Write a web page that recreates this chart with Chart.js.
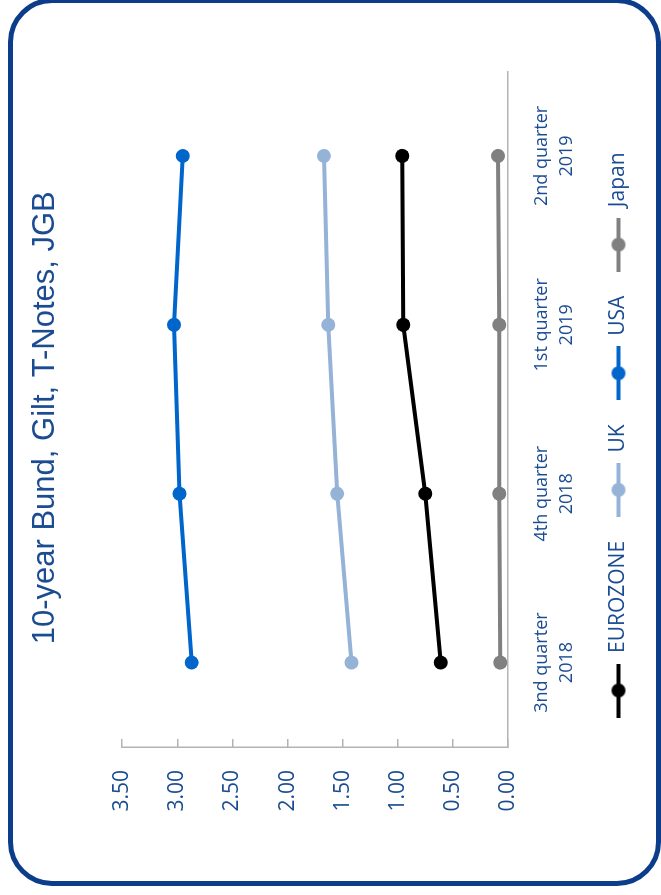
<!DOCTYPE html>
<html>
<head>
<meta charset="utf-8">
<script src="https://cdn.jsdelivr.net/npm/chart.js@4"></script>
<style>
  html, body { margin: 0; padding: 0; background: #fff; overflow: hidden; }
  body { width: 661px; height: 895px; position: relative; }
  #frame { position: absolute; left: 8px; top: -2px; width: 643px; height: 878px;
           border: 5px solid #0b3d8a; border-radius: 44px; }
  /* the chart is drawn landscape and turned a quarter left */
  #wrap { position: absolute; left: 0; top: 0; width: 895px; height: 661px;
          transform-origin: 0 0; transform: translateY(895px) rotate(-90deg); }
</style>
</head>
<body>
<div id="frame"></div>
<div id="wrap"><canvas id="bondChart" width="895" height="661"></canvas></div>
<script>
const quarters = [['3nd quarter', '2018'], ['4th quarter', '2018'], ['1st quarter', '2019'], ['2nd quarter', '2019']];
const seriesNames = ['EUROZONE', 'UK', 'USA', 'Japan'];
const seriesColors = ['#000000', '#95b3d7', '#0066cc', '#808080'];
const eurozone = [0.61, 0.75, 0.95, 0.96];
const uk = [1.42, 1.55, 1.63, 1.67];
const usa = [2.87, 2.98, 3.03, 2.95];
const japan = [0.07, 0.08, 0.08, 0.09];
const yTicks = [0, 0.5, 1, 1.5, 2, 2.5, 3, 3.5];

const textBlue = '#1b4c92';
const axisGrey = '#b3b3b3';

// little line-with-dot images for the legend
function legendMark(color) {
  const c = document.createElement('canvas');
  c.width = 54;
  c.height = 16;
  const g = c.getContext('2d');
  g.strokeStyle = color;
  g.lineWidth = 4;
  g.beginPath();
  g.moveTo(0, 8);
  g.lineTo(54, 8);
  g.stroke();
  g.fillStyle = color;
  g.beginPath();
  g.arc(27, 8, 7, 0, Math.PI * 2);
  g.fill();
  return c;
}
const marks = seriesColors.map(legendMark);

const allValues = [eurozone, uk, usa, japan];

const ctx = document.getElementById('bondChart').getContext('2d');
new Chart(ctx, {
  type: 'line',
  data: {
    labels: quarters,
    datasets: seriesNames.map((name, i) => ({
      label: name,
      data: allValues[i],
      borderColor: seriesColors[i],
      backgroundColor: seriesColors[i],
      pointBackgroundColor: seriesColors[i],
      borderWidth: 4,
      pointRadius: 7,
      pointBorderWidth: 0,
      tension: 0
    }))
  },
  options: {
    responsive: false,
    animation: false,
    layout: { padding: { left: 25, right: 0, top: 0, bottom: 22 } },
    plugins: {
      title: {
        display: true,
        // leading spaces nudge the title over the plot
        text: '    10-year Bund, Gilt, T-Notes, JGB',
        color: textBlue,
        font: { family: 'Liberation Sans, Arial', size: 31, weight: 'normal' },
        padding: { top: 27, bottom: 58 }
      },
      legend: {
        position: 'bottom',
        labels: {
          usePointStyle: true,
          pointStyleWidth: 54,
          padding: 24,
          color: textBlue,
          font: { family: 'Open Sans', size: 21 },
          generateLabels: function(chart) {
            const items = Chart.defaults.plugins.legend.labels.generateLabels(chart);
            items.forEach((it, i) => { it.pointStyle = marks[i]; });
            return items;
          }
        }
      },
      tooltip: { enabled: false }
    },
    scales: {
      x: {
        offset: true,
        grid: { display: false, drawTicks: false },
        border: { display: true, color: axisGrey, width: 1.5 },
        ticks: { color: textBlue, padding: 21, font: { family: 'Open Sans', size: 18, lineHeight: 1.4 }, maxRotation: 0 },
        afterFit: function(scale) { scale.height = 76; }
      },
      y: {
        min: 0,
        max: 3.5,
        afterBuildTicks: function(scale) { scale.ticks = yTicks.map(v => ({ value: v })); },
        grid: { display: true, drawOnChartArea: false, tickLength: -8, color: axisGrey, lineWidth: 1.5 },
        border: { display: true, color: axisGrey, width: 1.5 },
        ticks: {
          color: textBlue,
          padding: 31,
          font: { family: 'Open Sans', size: 21 },
          callback: function(v) { return Number(v).toFixed(2); }
        },
        afterFit: function(scale) { scale.width = 123; }
      },
      // empty right-hand axis, only keeps the plot's right edge in place
      yRight: {
        position: 'right',
        display: true,
        grid: { display: false },
        border: { display: false },
        ticks: { display: false },
        afterFit: function(scale) { scale.width = 71.5; }
      }
    }
  }
});
</script>
</body>
</html>
